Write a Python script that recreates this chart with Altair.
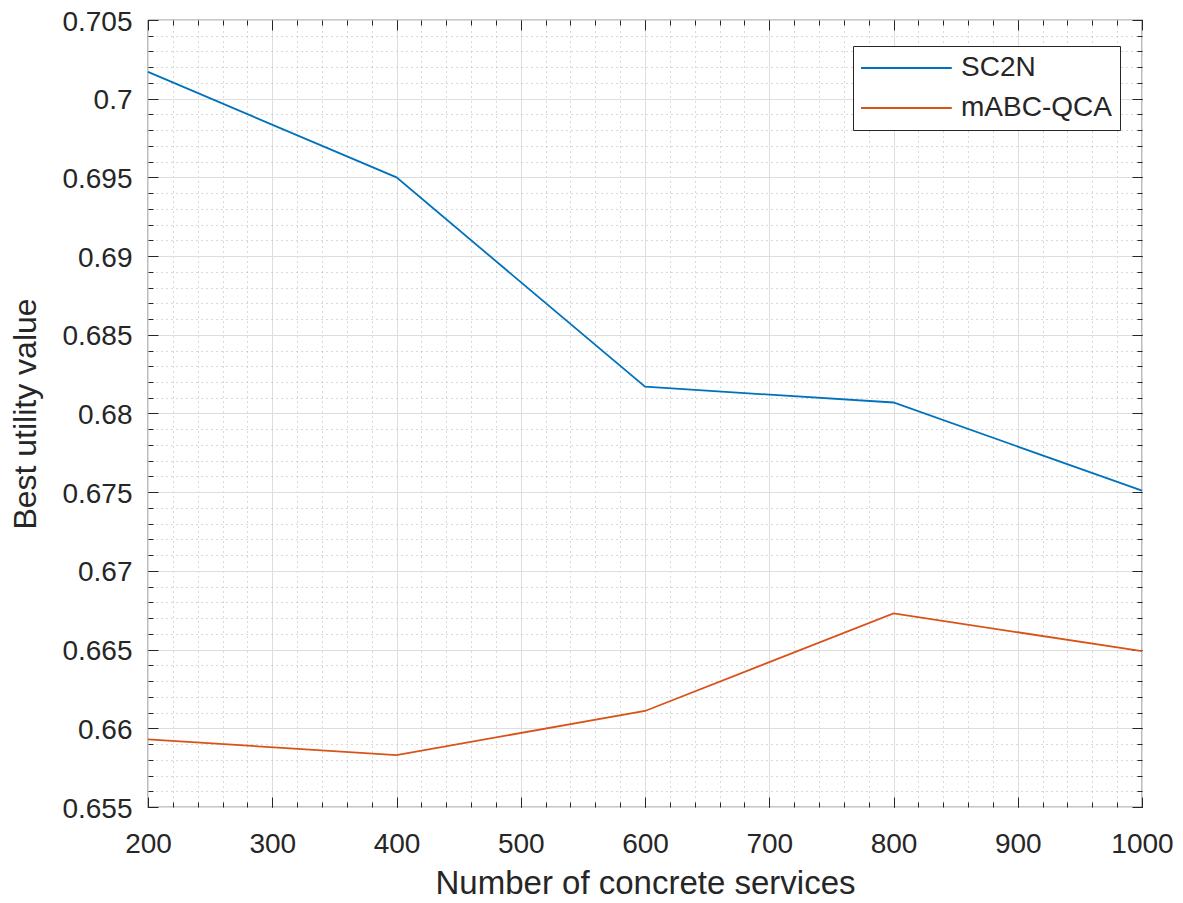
import altair as alt
import pandas as pd

services = [200, 400, 600, 800, 1000]
sc2n = [0.7017, 0.6950, 0.6817, 0.6807, 0.6751]
mabc = [0.6593, 0.6583, 0.6611, 0.6673, 0.6649]
series_names = ["SC2N", "mABC-QCA"]
series_colors = ["#0072BD", "#D95319"]

x_major = list(range(200, 1001, 100))
x_minor = list(range(200, 1001, 20))
y_major = [round(0.655 + 0.005 * i, 3) for i in range(11)]
y_minor = [round(0.655 + 0.001 * i, 3) for i in range(51)]

rows = []
for name, vals in zip(series_names, [sc2n, mabc]):
    for s, v in zip(services, vals):
        rows.append({"services": s, "value": v, "series": name})
df = pd.DataFrame(rows)

FONT = "Liberation Sans"
TXT = "#262626"

xscale = alt.Scale(domain=[200, 1000], nice=False, zero=False)
yscale = alt.Scale(domain=[0.655, 0.705], nice=False, zero=False)


def grid_layer(xo, yo, xv, yv, dash, color):
    return alt.Chart(df).mark_point(opacity=0).encode(
        x=alt.X("services:Q", scale=xscale, axis=alt.Axis(
            orient=xo, values=xv, grid=True, gridColor=color, gridDash=dash,
            gridWidth=1, ticks=False, labels=False, domain=False, title=None)),
        y=alt.Y("value:Q", scale=yscale, axis=alt.Axis(
            orient=yo, values=yv, grid=True, gridColor=color, gridDash=dash,
            gridWidth=1, ticks=False, labels=False, domain=False, title=None)),
    )


def tick_layer(xo, yo, xv, yv, size):
    return alt.Chart(df).mark_point(opacity=0).encode(
        x=alt.X("services:Q", scale=xscale, axis=alt.Axis(
            orient=xo, values=xv, grid=False, ticks=True, tickSize=size,
            tickColor=TXT, tickWidth=1, offset=-size, labels=False,
            domain=False, title=None)),
        y=alt.Y("value:Q", scale=yscale, axis=alt.Axis(
            orient=yo, values=yv, grid=False, ticks=True, tickSize=size,
            tickColor=TXT, tickWidth=1, offset=-size, labels=False,
            domain=False, title=None)),
    )


minor_grid = grid_layer("top", "right", x_minor, y_minor, [1, 4], "#b3b3b3")

lines = alt.Chart(df).mark_line(strokeWidth=1.8).encode(
    x=alt.X("services:Q", scale=xscale, axis=alt.Axis(
        orient="bottom", values=x_major, format="d", grid=True, gridColor="#dedede",
        gridWidth=1, ticks=False, domain=False, labelPadding=23, labelFontSize=28,
        labelFont=FONT, labelColor=TXT, labelFlush=False,
        title="Number of concrete services", titleFontSize=33, titleFont=FONT,
        titleColor=TXT, titleFontWeight="normal", titlePadding=9)),
    y=alt.Y("value:Q", scale=yscale, axis=alt.Axis(
        orient="left", values=y_major, grid=True, gridColor="#dedede", gridWidth=1,
        ticks=False, domain=False, labelPadding=16, labelFontSize=28, labelFont=FONT,
        labelColor=TXT, labelFlush=False, labelOffset=2,
        labelExpr="format(datum.value, '.3~f')",
        title="Best utility value", titleFontSize=32, titleFont=FONT, titleColor=TXT,
        titleFontWeight="normal", titlePadding=19)),
    color=alt.Color("series:N", sort=series_names,
                    scale=alt.Scale(domain=series_names, range=series_colors),
                    legend=alt.Legend(
                        title=None, orient="none", legendX=705, legendY=26,
                        symbolType="M-1.75,0H9.6", symbolSize=256,
                        symbolStrokeWidth=1.8, labelFontSize=28, labelFont=FONT,
                        labelColor=TXT, strokeColor="#262626", fillColor="white",
                        padding=8, rowPadding=12, labelOffset=72, cornerRadius=0)),
)

major_ticks_bl = tick_layer("bottom", "left", x_major, y_major, 10)
major_ticks_tr = tick_layer("top", "right", x_major, y_major, 10)
minor_ticks_bl = tick_layer("bottom", "left", x_minor, y_minor, 5)
minor_ticks_tr = tick_layer("top", "right", x_minor, y_minor, 5)

chart = alt.layer(
    minor_grid, major_ticks_bl, major_ticks_tr, minor_ticks_bl, minor_ticks_tr, lines
).resolve_axis(x="independent", y="independent").properties(
    width=994, height=787,
    autosize=alt.AutoSizeParams(type="none"),
    padding={"left": 140, "top": 12, "right": 33, "bottom": 87},
    background="white",
).configure_view(stroke="#262626", strokeWidth=1.2)

chart.save("out.html", embed_options={"renderer": "svg", "actions": False})
